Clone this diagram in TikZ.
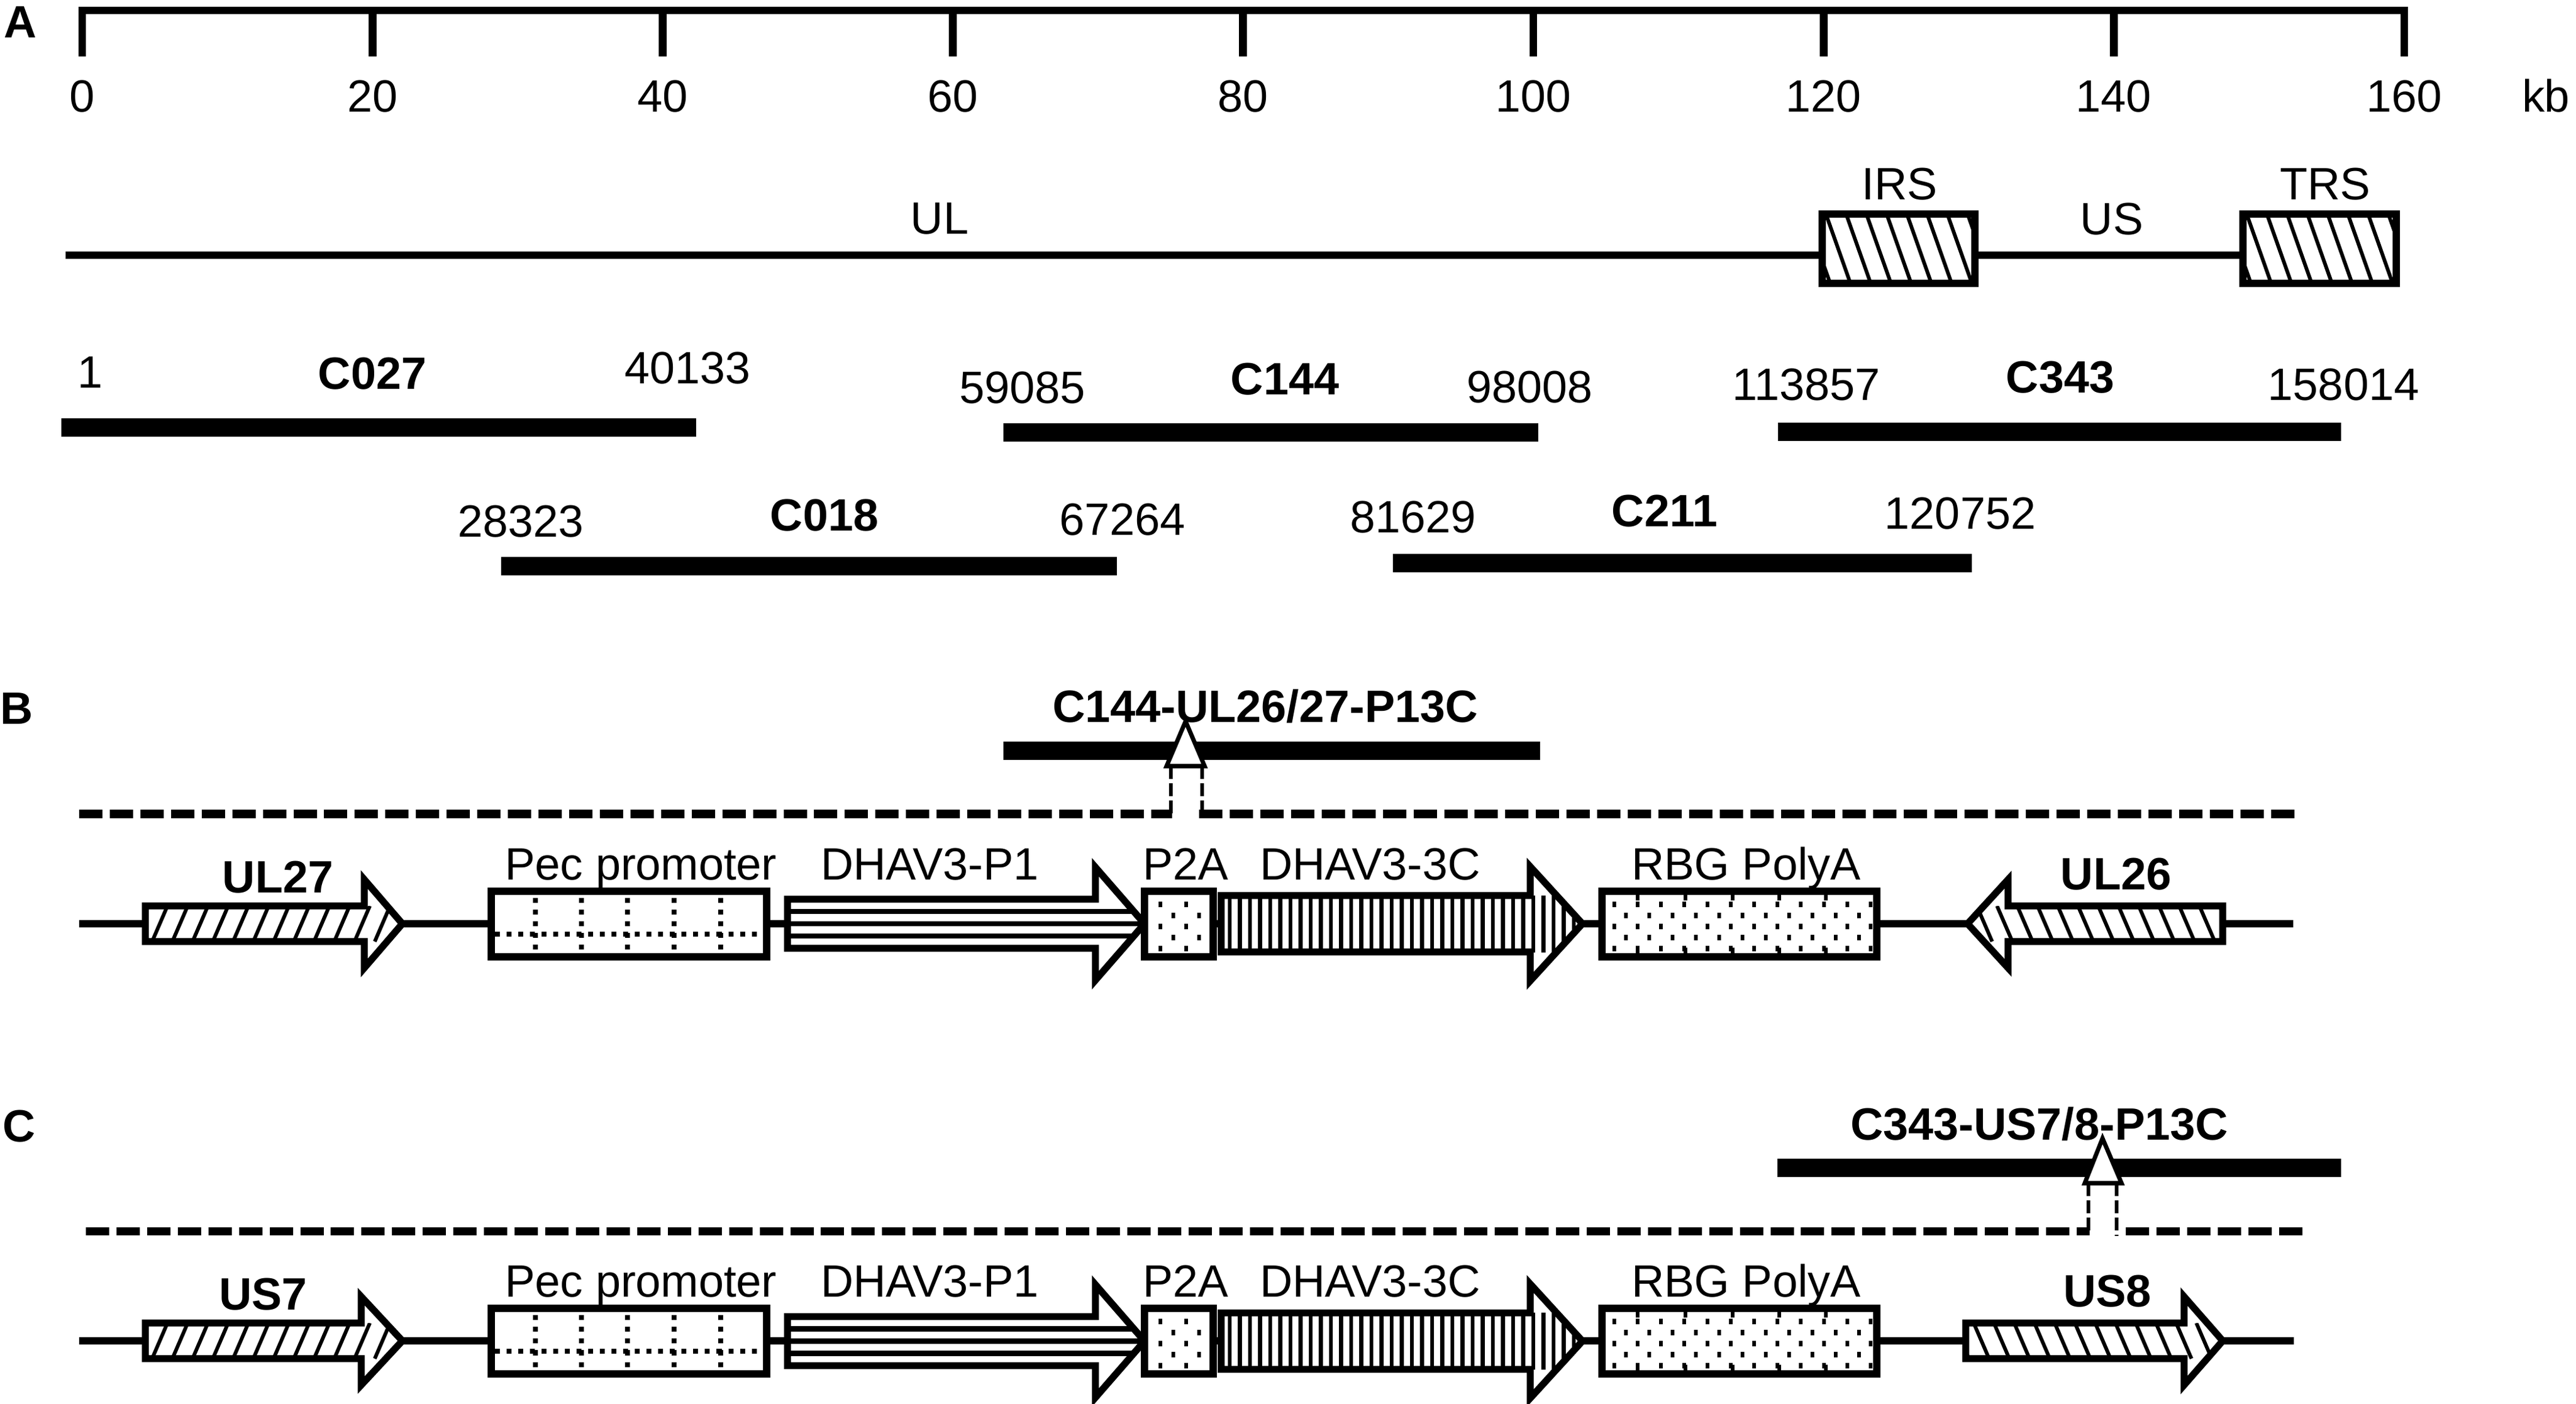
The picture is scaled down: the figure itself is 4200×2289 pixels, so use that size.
\documentclass[tikz,border=0pt]{standalone}
\usepackage{fontspec}
\setmainfont{Liberation Sans}
\tikzset{
  txt/.style={inner sep=0pt,outer sep=0pt,anchor=base,font=\fontsize{21pt}{25pt}\selectfont},
  btxt/.style={inner sep=0pt,outer sep=0pt,anchor=base,font=\fontsize{21pt}{25pt}\selectfont\bfseries},
  rulerline/.style={line width=3.6pt,line join=miter},
  bbone/.style={line width=3.4pt},
  seg/.style={line width=8.5pt},
  boxoutl/.style={draw=black,line width=3.4pt},
  aoutl/.style={draw=black,line width=3.2pt,line join=miter},
  hatchline/.style={line width=1.7pt},
  stripeline/.style={line width=2.4pt},
  vstripeline/.style={line width=1.8pt},
  dotline/.style={line width=2.3pt,dash pattern=on 2.28pt off 3.13pt},
  gdash/.style={line width=3.7pt,dash pattern=on 10.8pt off 3.4pt},
  vdash/.style={line width=1.5pt,dash pattern=on 6pt off 2pt},
  tri/.style={draw=black,fill=white,line width=2pt,line join=miter},
}
% cassette shared by panels B and C; #1 = name suffix
\newcommand\cassette[1]{%
  % Pec promoter box
  \fill[white] (801,1453) rectangle (1250,1560);
  \begin{scope}
    \clip (801,1453) rectangle (1250,1560);
    \foreach \xx in {873,948,1023,1099,1175} \draw[dotline] (\xx,1464) -- (\xx,1560);
    \draw[dotline] (807,1523) -- (1250,1523);
  \end{scope}
  \draw[boxoutl] (801,1453) rectangle (1250,1560);
  \node[txt] (pec#1) at (1045,1434) {Pec promoter};
  % DHAV3-P1 arrow
  \fill[white] (1284,1466) -- (1786,1466) -- (1786,1414) -- (1866,1506) -- (1786,1598) -- (1786,1546) -- (1284,1546) -- cycle;
  \begin{scope}
    \clip (1284,1466) -- (1786,1466) -- (1786,1414) -- (1866,1506) -- (1786,1598) -- (1786,1546) -- (1284,1546) -- cycle;
    \foreach \yy in {1486,1506,1526} \draw[stripeline] (1284,\yy) -- (1870,\yy);
  \end{scope}
  \draw[aoutl] (1284,1466) -- (1786,1466) -- (1786,1414) -- (1866,1506) -- (1786,1598) -- (1786,1546) -- (1284,1546) -- cycle;
  \node[txt] (pone#1) at (1516,1434) {DHAV3-P1};
  % P2A box
  \fill[white] (1866,1453) rectangle (1978,1560);
  \foreach \yy/\xa/\xb in {1474/1892/1934,1492/1913/1955,1510/1892/1934,1528/1913/1955,1546/1892/1934} {
    \fill (\xa-3,\yy-4.5) rectangle (\xa+3,\yy+4.5);
    \fill (\xb-3,\yy-4.5) rectangle (\xb+3,\yy+4.5);
  }
  \draw[boxoutl] (1866,1453) rectangle (1978,1560);
  \node[txt] (ptwoa#1) at (1933,1434) {P2A};
  % DHAV3-3C arrow
  \fill[white] (1991,1460) -- (2495,1460) -- (2495,1413) -- (2580,1506) -- (2495,1599) -- (2495,1552) -- (1991,1552) -- cycle;
  \begin{scope}
    \clip (1991,1460) -- (2495,1460) -- (2495,1413) -- (2580,1506) -- (2495,1599) -- (2495,1552) -- (1991,1552) -- cycle;
    \clip (1991,1460) rectangle (2580,1552);
    \foreach \xx in {2005,2021.5,...,2580} \draw[vstripeline] (\xx,1450) -- (\xx,1560);
  \end{scope}
  \draw[aoutl] (1991,1460) -- (2495,1460) -- (2495,1413) -- (2580,1506) -- (2495,1599) -- (2495,1552) -- (1991,1552) -- cycle;
  \node[txt] (threec#1) at (2234,1434) {DHAV3-3C};
  % RBG PolyA box
  \fill[white] (2612,1453) rectangle (3060,1560);
  \begin{scope}
    \clip (2618,1459) rectangle (3054,1554);
    \foreach \yy/\xs in {1474/2632,1492/2651,1510/2632,1528/2651,1546/2632} {
      \foreach \xx in {0,38,...,420} \fill (\xs+\xx-3,\yy-4.5) rectangle (\xs+\xx+3,\yy+4.5);
    }
    \foreach \xx in {2670,2748,2825,2901,2977} {
      \draw[line width=1.5pt] (\xx,1453) -- (\xx,1468);
      \draw[line width=1.5pt] (\xx,1545) -- (\xx,1560);
    }
  \end{scope}
  \draw[boxoutl] (2612,1453) rectangle (3060,1560);
  \node[txt] (rbg#1) at (2847,1434) {RBG PolyA};
}
\begin{document}
\begin{tikzpicture}[x=0.01cm,y=-0.01cm]
\useasboundingbox (0,0) rectangle (4200,2289);
\fill[white] (0,0) rectangle (4200,2289);

% ================= Panel A =================
\node[btxt] (labA) at (33,62) {A};
\draw[rulerline] (134,92) -- (134,17) -- (3920,17) -- (3920,92);
\foreach \k in {20,40,...,140} \draw[rulerline] ({134+23.66*\k},17) -- ({134+23.66*\k},92);
\foreach \k in {0,20,...,160} \node[txt] (tick\k) at ({134+23.66*\k},183) {\k};
\node[txt] (kb) at (4151,183) {kb};

% genome line with repeats
\draw[bbone] (107,416) -- (3657,416);
\foreach \xa/\xb/\nm in {2971/3220/irs,3657/3907/trs} {
  \fill[white] (\xa,349) rectangle (\xb,462);
  \begin{scope}
    \clip (\xa,349) rectangle (\xb,462);
    \foreach \xx in {-60,-27,...,260} \draw[hatchline] (\xa+\xx,349) -- (\xa+\xx+40,462);
  \end{scope}
  \draw[boxoutl] (\xa,349) rectangle (\xb,462);
}
\node[txt] (UL) at (1532,382) {UL};
\node[txt] (IRS) at (3097,326) {IRS};
\node[txt] (US) at (3443,383) {US};
\node[txt] (TRS) at (3791,326) {TRS};

% cosmid fragments
\node[txt] (s1) at (147,633) {1};
\node[btxt] (c027) at (607,635) {C027};
\node[txt] (e1) at (1121,626) {40133};
\draw[seg] (100,697) -- (1135,697);

\node[txt] (s2) at (1667,658) {59085};
\node[btxt] (c144) at (2095,644) {C144};
\node[txt] (e2) at (2494,657) {98008};
\draw[seg] (1636,705) -- (2508,705);

\node[txt] (s3) at (2945,653) {113857};
\node[btxt] (c343) at (3359,641) {C343};
\node[txt] (e3) at (3821,653) {158014};
\draw[seg] (2899,704) -- (3817,704);

\node[txt] (s4) at (849,876) {28323};
\node[btxt] (c018) at (1344,866) {C018};
\node[txt] (e4) at (1830,873) {67264};
\draw[seg] (817,923) -- (1821,923);

\node[txt] (s5) at (2304,869) {81629};
\node[btxt] (c211) at (2714,859) {C211};
\node[txt] (e5) at (3196,863) {120752};
\draw[seg] (2271,918) -- (3215,918);

% ================= Panel B =================
\node[btxt] (labB) at (27,1181) {B};
\node[btxt] (insB) at (2063,1178) {C144-UL26/27-P13C};
\draw[seg] (1636,1224) -- (2511,1224);
\coordinate (bL) at (129,1327);
\coordinate (bgl) at (1911,1327);
\coordinate (bgr) at (1955,1327);
\coordinate (bR) at (3742,1327);
\draw[gdash] (bL) -- (bgl);
\draw[gdash] (bgr) -- (bR);
\draw[vdash] (1909,1249) -- (1909,1327);
\draw[vdash] (1960,1249) -- (1960,1327);
\draw[tri] (1933,1176) -- (1964,1249) -- (1902,1249) -- cycle;

\draw[bbone] (129,1506) -- (3739,1506);
% UL27 (right)
\fill[white] (237,1477) -- (594,1477) -- (594,1434) -- (656,1506) -- (594,1578) -- (594,1535) -- (237,1535) -- cycle;
\begin{scope}
  \clip (237,1477) -- (594,1477) -- (594,1434) -- (656,1506) -- (594,1578) -- (594,1535) -- (237,1535) -- cycle;
  \clip (237,1477) rectangle (656,1535);
  \foreach \xx in {215,248,...,660} \draw[hatchline] (\xx,1535) -- (\xx+25,1477);
\end{scope}
\draw[aoutl] (237,1477) -- (594,1477) -- (594,1434) -- (656,1506) -- (594,1578) -- (594,1535) -- (237,1535) -- cycle;
\node[btxt] (ul27) at (453,1455) {UL27};
% UL26 (left)
\fill[white] (3624,1477) -- (3274,1477) -- (3274,1434) -- (3208,1506) -- (3274,1578) -- (3274,1535) -- (3624,1535) -- cycle;
\begin{scope}
  \clip (3624,1477) -- (3274,1477) -- (3274,1434) -- (3208,1506) -- (3274,1578) -- (3274,1535) -- (3624,1535) -- cycle;
  \clip (3208,1477) rectangle (3624,1535);
  \foreach \xx in {3190,3223,...,3630} \draw[hatchline] (\xx,1477) -- (\xx+25,1535);
\end{scope}
\draw[aoutl] (3624,1477) -- (3274,1477) -- (3274,1434) -- (3208,1506) -- (3274,1578) -- (3274,1535) -- (3624,1535) -- cycle;
\node[btxt] (ul26) at (3450,1450) {UL26};
\cassette{B}

% ================= Panel C =================
\node[btxt] (labC) at (31,1861) {C};
\node[btxt] (insC) at (3325,1858) {C343-US7/8-P13C};
\draw[seg] (2898,1904) -- (3817,1904);
\coordinate (cL) at (140,2007);
\coordinate (cgl) at (3407,2007);
\coordinate (cgr) at (3466,2007);
\coordinate (cR) at (3754,2007);
\draw[gdash] (cL) -- (cgl);
\draw[gdash] (cgr) -- (cR);
\draw[vdash] (3405,1929) -- (3405,2007);
\draw[vdash] (3451,1929) -- (3451,2015);
\draw[tri] (3428,1856) -- (3459,1929) -- (3399,1929) -- cycle;

\draw[bbone] (129,2186) -- (3740,2186);
% US7 (right)
\fill[white] (237,2157) -- (589,2157) -- (589,2114) -- (656,2186) -- (589,2258) -- (589,2215) -- (237,2215) -- cycle;
\begin{scope}
  \clip (237,2157) -- (589,2157) -- (589,2114) -- (656,2186) -- (589,2258) -- (589,2215) -- (237,2215) -- cycle;
  \clip (237,2157) rectangle (656,2215);
  \foreach \xx in {215,248,...,660} \draw[hatchline] (\xx,2215) -- (\xx+25,2157);
\end{scope}
\draw[aoutl] (237,2157) -- (589,2157) -- (589,2114) -- (656,2186) -- (589,2258) -- (589,2215) -- (237,2215) -- cycle;
\node[btxt] (us7) at (429,2135) {US7};
% US8 (right)
\fill[white] (3205,2157) -- (3561,2157) -- (3561,2114) -- (3624,2186) -- (3561,2258) -- (3561,2215) -- (3205,2215) -- cycle;
\begin{scope}
  \clip (3205,2157) -- (3561,2157) -- (3561,2114) -- (3624,2186) -- (3561,2258) -- (3561,2215) -- (3205,2215) -- cycle;
  \clip (3205,2157) rectangle (3624,2215);
  \foreach \xx in {3185,3218,...,3630} \draw[hatchline] (\xx,2157) -- (\xx+25,2215);
\end{scope}
\draw[aoutl] (3205,2157) -- (3561,2157) -- (3561,2114) -- (3624,2186) -- (3561,2258) -- (3561,2215) -- (3205,2215) -- cycle;
\node[btxt] (us8) at (3436,2130) {US8};
\begin{scope}[yshift=-6.8cm]
\cassette{C}
\end{scope}
\end{tikzpicture}
\end{document}
